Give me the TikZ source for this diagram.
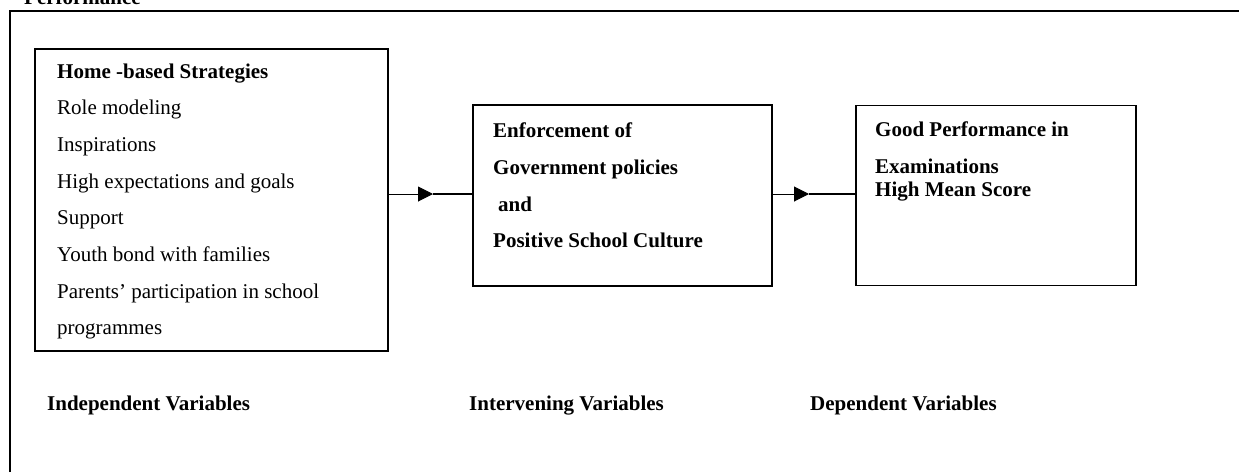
\documentclass[tikz,border=0pt]{standalone}
\usepackage{fontspec}
\setmainfont{Liberation Serif}
\usetikzlibrary{arrows.meta}
\begin{document}
\begin{tikzpicture}[x=1pt,y=-1pt,
  txt/.style={anchor=base west,inner sep=0pt,font=\fontsize{21}{25}\selectfont},
  btxt/.style={txt,font=\fontsize{21}{25}\selectfont\bfseries},
  box/.style={draw,line width=1.5pt,inner sep=0pt},
  conn/.style={line width=1pt},
  connb/.style={line width=1.6pt}]
\useasboundingbox (0,0) rectangle (1239,472);
\fill[white] (0,0) rectangle (1239,472);
% outer frame (cropped)
\draw[line width=2pt] (10,472) -- (10,11) -- (1239,11);
\node[btxt] (perf) at (24,4) {Performance};
% boxes
\node[box,minimum width=353pt,minimum height=302pt] (b1) at (211.5,200) {};
\node[box,minimum width=299pt,minimum height=181pt] (b2) at (622.5,195.5) {};
\node[box,minimum width=280pt,minimum height=180pt] (b3) at (996,195.5) {};
% box 1 text
\node[btxt] (h1) at (57,78) {Home -based Strategies};
\node[txt] (h2) at (57,114.7) {Role modeling};
\node[txt] (h3) at (57,151.4) {Inspirations};
\node[txt] (h4) at (57,188.1) {High expectations and goals};
\node[txt] (h5) at (57,224.8) {Support};
\node[txt] (h6) at (57,261.5) {Youth bond with families};
\node[txt] (h7) at (57,298.2) {Parents’ participation in school};
\node[txt] (h8) at (57,334.9) {programmes};
% box 2 text
\node[btxt] (g1) at (493,137) {Enforcement of};
\node[btxt] (g2) at (493,174) {Government policies};
\node[btxt] (g3) at (498,211) {and};
\node[btxt] (g4) at (493,247) {Positive School Culture};
% box 3 text
\node[btxt] (p1) at (875,136) {Good Performance in};
\node[btxt] (p2) at (875,173) {Examinations};
\node[btxt] (p3) at (875,196) {High Mean Score};
% labels
\node[btxt] (l1) at (47,410) {Independent Variables};
\node[btxt] (l2) at (469,410) {Intervening Variables};
\node[btxt] (l3) at (810,410) {Dependent Variables};
% connectors
\coordinate (m1) at (433,194);
\coordinate (m2) at (809,194);
\draw[conn,-{Triangle[length=15pt,width=15pt]}] (b1.east |- m1) -- (m1);
\draw[connb] (m1) -- (b2.west |- m1);
\draw[conn,-{Triangle[length=15pt,width=15pt]}] (b2.east |- m2) -- (m2);
\draw[connb] (m2) -- (b3.west |- m2);
\end{tikzpicture}
\end{document}
